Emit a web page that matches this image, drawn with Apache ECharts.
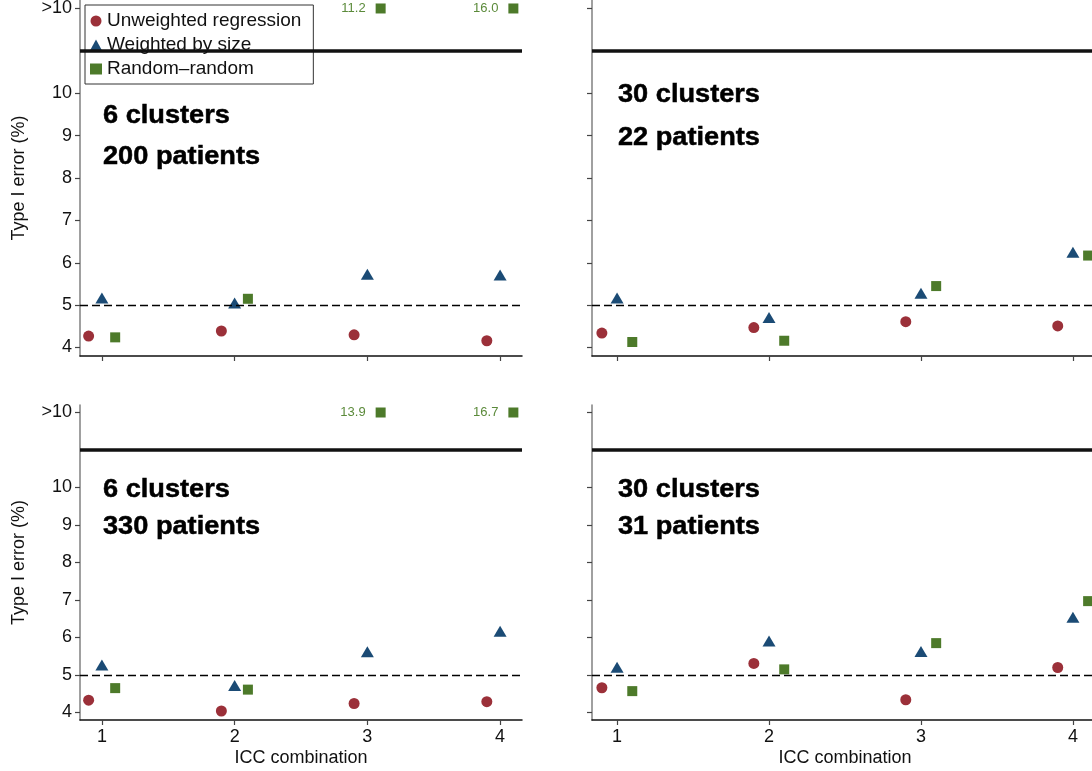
<!DOCTYPE html>
<html><head><meta charset="utf-8">
<script src="https://cdn.jsdelivr.net/npm/echarts@6/dist/echarts.min.js"></script>
<style>html,body{margin:0;padding:0;background:#fff}#c{width:1092px;height:771px}</style>
</head><body><div id="c"></div>
<script>
// ---- data ----
const xTicks = [1, 2, 3, 4];
const yTickValues = [4, 5, 6, 7, 8, 9, 10, 12];
const yTickLabels = ['4', '5', '6', '7', '8', '9', '10', '>10'];
const seriesNames = ['Unweighted regression', 'Weighted by size', 'Random\u2013random'];
const panelLines1 = ['6 clusters', '30 clusters', '6 clusters', '30 clusters'];
const panelLines2 = ['200 patients', '22 patients', '330 patients', '31 patients'];
const capThreshold = 10;   // values above this are drawn in the ">10" row
const capRow = 12;         // axis value of the ">10" row
const breakLine = 11;      // thick separator
const nominal = 5;         // nominal 5% level

const unweighted_6_200 = [4.27, 4.39, 4.30, 4.16];
const weighted_6_200   = [5.17, 5.05, 5.73, 5.71];
const random_6_200     = [4.24, 5.15, 11.2, 16.0];

const unweighted_30_22 = [4.34, 4.47, 4.61, 4.51];
const weighted_30_22   = [5.17, 4.71, 5.28, 6.25];
const random_30_22     = [4.13, 4.16, 5.45, 6.17];

const unweighted_6_330 = [4.33, 4.04, 4.24, 4.29];
const weighted_6_330   = [5.27, 4.72, 5.62, 6.17];
const random_6_330     = [4.65, 4.61, 13.9, 16.7];

const unweighted_30_31 = [4.66, 5.31, 4.34, 5.20];
const weighted_30_31   = [5.21, 5.91, 5.63, 6.54];
const random_30_31     = [4.57, 5.15, 5.85, 6.97];

const panels = [
  [unweighted_6_200, weighted_6_200, random_6_200],
  [unweighted_30_22, weighted_30_22, random_30_22],
  [unweighted_6_330, weighted_6_330, random_6_330],
  [unweighted_30_31, weighted_30_31, random_30_31]
];

// ---- styles ----
const FONT = 'Liberation Sans, Arial, sans-serif';
const colors = ['#9b3039', '#1b4b75', '#4d7a2a'];
const symbols = ['circle', 'triangle', 'rect'];
const symbolSizes = [11, [13, 11], 10];
const xOffsets = [-0.1, 0, 0.1];
const grids = [
  {left: 80, top: 0, width: 442, height: 356},
  {left: 592, top: 0, width: 506, height: 356},
  {left: 80, top: 405, width: 442, height: 315},
  {left: 592, top: 405, width: 506, height: 315}
];
const textPos = [
  {x: 103, y1: 115.5, y2: 157},
  {x: 618, y1: 94.5, y2: 137.5},
  {x: 103, y1: 489.5, y2: 527},
  {x: 618, y1: 489.5, y2: 527}
];

const xAxes = [], yAxes = [], series = [], graphics = [];
grids.forEach((g, i) => {
  const showX = i >= 2, showY = i % 2 === 0;
  xAxes.push({
    type: 'value', gridIndex: i, min: 0.835, max: 4.165,
    axisLine: {show: true, onZero: false, lineStyle: {color: '#111', width: 1.5}},
    axisTick: {show: true, customValues: xTicks, length: 5, lineStyle: {color: '#444', width: 1.2}},
    axisLabel: {show: showX, customValues: xTicks, fontSize: 18, color: '#111', margin: 8, fontFamily: FONT},
    splitLine: {show: false},
    name: showX ? 'ICC combination' : '', nameLocation: 'middle', nameGap: 29,
    nameTextStyle: {fontSize: 18, color: '#111', fontFamily: FONT}
  });
  yAxes.push({
    type: 'value', gridIndex: i, min: 3.8, max: 12.2,
    axisLine: {show: true, onZero: false, lineStyle: {color: '#808080', width: 1.5}},
    axisTick: {show: true, customValues: yTickValues, length: 5, lineStyle: {color: '#444', width: 1.2}},
    axisLabel: {show: showY, customValues: yTickValues, fontSize: 18, color: '#111', margin: 8, fontFamily: FONT,
      formatter: v => yTickLabels[yTickValues.indexOf(v)]},
    splitLine: {show: false},
    name: showY ? 'Type I error (%)' : '', nameLocation: 'middle', nameGap: 52,
    nameTextStyle: {fontSize: 18, color: '#111', fontFamily: FONT}
  });
  panels[i].forEach((vals, s) => {
    const data = vals.map((v, k) => {
      const capped = v > capThreshold;
      const item = {value: [xTicks[k] + xOffsets[s], capped ? capRow : v, v]};
      if (capped) item.label = {show: true};
      return item;
    });
    const ser = {
      type: 'scatter', name: seriesNames[s], xAxisIndex: i, yAxisIndex: i,
      symbol: symbols[s], symbolSize: symbolSizes[s],
      itemStyle: {color: colors[s], opacity: 1},
      label: {show: false, position: 'left', distance: 10, fontSize: 13, color: '#5b8a3a', fontFamily: FONT,
        formatter: p => p.value[2].toFixed(1)},
      data: data, z: 3
    };
    if (s === 0) {
      ser.markLine = {
        silent: true, symbol: 'none', label: {show: false}, animation: false,
        emphasis: {disabled: true},
        data: [
          {yAxis: nominal, lineStyle: {type: [8, 4], width: 1.3, color: '#000'}},
          {yAxis: breakLine, lineStyle: {type: 'solid', width: 3.5, color: '#111'}}
        ]
      };
    }
    series.push(ser);
  });
  [panelLines1[i], panelLines2[i]].forEach((t, r) => {
    graphics.push({type: 'text', x: textPos[i].x, y: r === 0 ? textPos[i].y1 : textPos[i].y2, scaleX: 1.045,
      style: {text: t, font: 'bold 26px ' + FONT, fill: '#000', stroke: '#000', lineWidth: 0.5, verticalAlign: 'middle'}});
  });
});

const chart = echarts.init(document.getElementById('c'), null, {renderer: 'canvas'});
chart.setOption({
  animation: false,
  backgroundColor: '#fff',
  textStyle: {fontFamily: FONT},
  grid: grids.map(g => Object.assign({containLabel: false, outerBoundsMode: 'none'}, g)),
  xAxis: xAxes,
  yAxis: yAxes,
  legend: {
    left: 85, top: 5, orient: 'vertical', data: seriesNames,
    backgroundColor: '#fff', borderColor: '#333', borderWidth: 1,
    padding: [6, 12, 5, 5], itemGap: 4, itemWidth: 12, itemHeight: 11,
    selectedMode: false,
    textStyle: {fontSize: 19, color: '#111', lineHeight: 20, fontFamily: FONT}
  },
  graphic: graphics,
  series: series
});
</script></body></html>
